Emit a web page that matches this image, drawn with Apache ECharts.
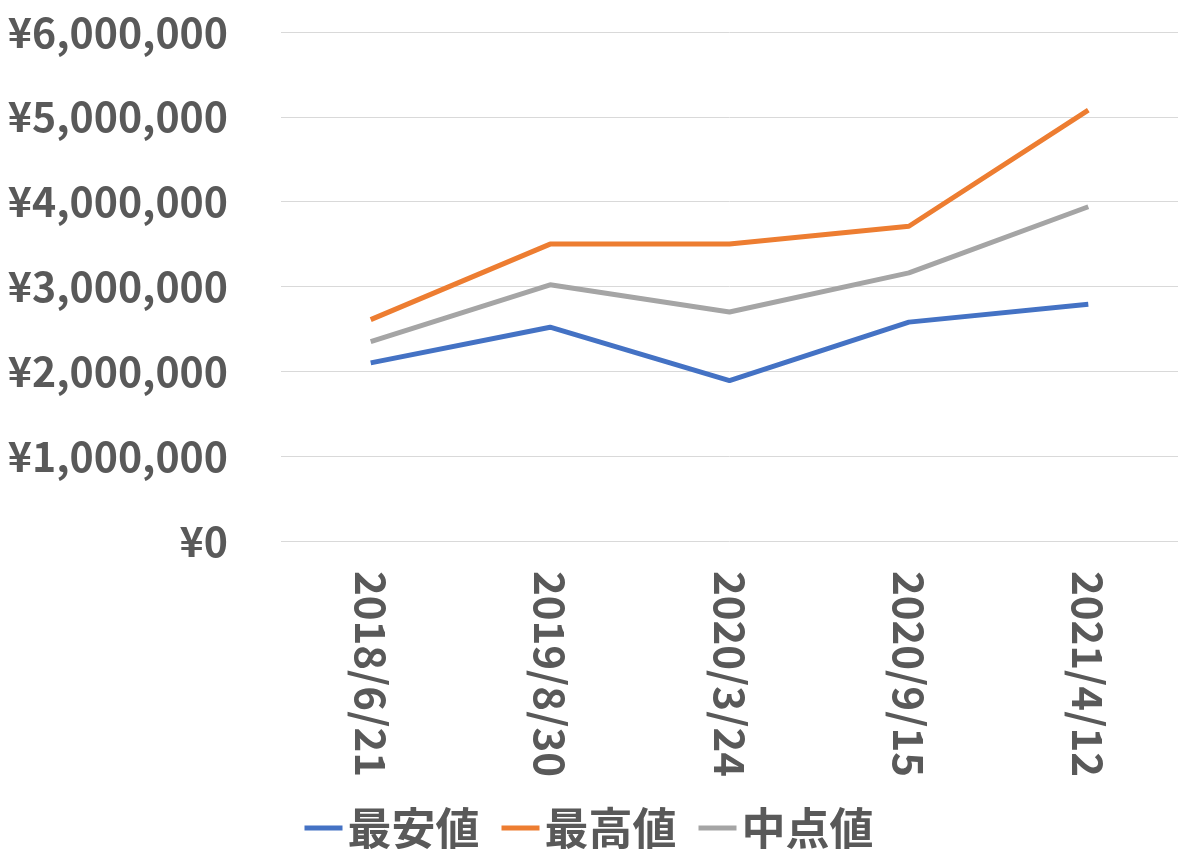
<!DOCTYPE html>
<html>
<head>
<meta charset="UTF-8" />
<style>
  html, body { margin: 0; padding: 0; background: #fff; }
  #chart { width: 1178px; height: 849px; }
</style>
</head>
<body>
<div id="chart"></div>
<script src="https://cdn.jsdelivr.net/npm/echarts@6/dist/echarts.min.js"></script>
<script>
  const dates = ["2018/6/21", "2019/8/30", "2020/3/24", "2020/9/15", "2021/4/12"];
  const minValues = [2100000, 2520000, 1890000, 2580000, 2790000];
  const maxValues = [2610000, 3500000, 3500000, 3710000, 5080000];
  const midValues = [2350000, 3020000, 2700000, 3160000, 3940000];

  const font = "'Noto Sans CJK JP', 'Liberation Sans', sans-serif";
  const grey = "#595959";

  let mchart = echarts.init(document.getElementById("chart"));
  let line = (name, data, color) => ({
    name: name,
    type: "line",
    data: data,
    symbol: "none",
    lineStyle: { width: 5, color: color },
    itemStyle: { color: color },
  });
  let option = {
    animation: false,
    textStyle: { fontFamily: font },
    grid: { left: 281, right: -2, top: 32, bottom: 308 },
    legend: {
      bottom: -6,
      left: "center",
      itemWidth: 38,
      itemHeight: 5,
      itemGap: 22,
      icon: "rect",
      textStyle: { fontSize: 44, color: grey, fontWeight: "bold", fontFamily: font },
      data: ["最安値", "最高値", "中点値"],
    },
    xAxis: {
      type: "category",
      data: dates,
      axisLine: { show: false },
      axisTick: { show: false },
      axisLabel: {
        rotate: -90,
        margin: 30,
        fontSize: 42,
        fontWeight: "bold",
        color: grey,
        fontFamily: font,
      },
    },
    yAxis: {
      type: "value",
      min: 0,
      max: 6000000,
      interval: 1000000,
      splitLine: { lineStyle: { color: "#d9d9d9" } },
      axisLabel: {
        fontSize: 41,
        fontWeight: "bold",
        color: grey,
        margin: 53,
        fontFamily: font,
        formatter: (v) => "¥" + v.toLocaleString("en-US"),
      },
    },
    series: [
      line("最安値", minValues, "#4472C4"),
      line("最高値", maxValues, "#ED7D31"),
      line("中点値", midValues, "#A5A5A5"),
    ],
  };
  mchart.setOption(option);
</script>
</body>
</html>
